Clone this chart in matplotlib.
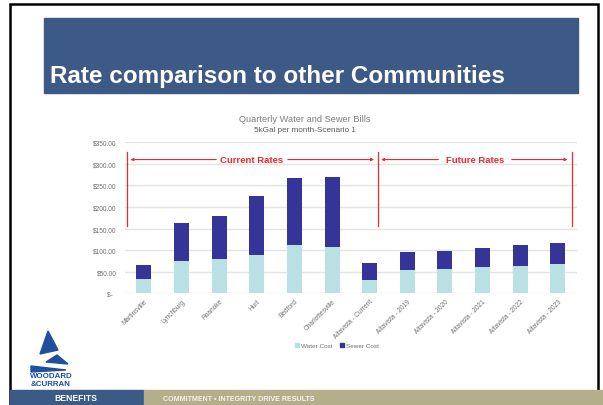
import matplotlib
matplotlib.use('Agg')
import matplotlib.pyplot as plt
from matplotlib.patches import Rectangle, Polygon
from matplotlib.lines import Line2D

plt.rcParams['font.family'] = ['Liberation Sans', 'DejaVu Sans']

W, H = 603, 406

categories = ['Martinsville', 'Lynchburg', 'Roanoke', 'Hurt', 'Bedford',
              'Charlottesville', 'Altavista - Current', 'Altavista - 2019',
              'Altavista - 2020', 'Altavista - 2021', 'Altavista - 2022',
              'Altavista - 2023']
water_cost = [34, 74, 79, 89, 111, 108, 31, 54, 56, 60, 64, 68]
sewer_cost = [32, 90, 100, 137, 157, 162, 40, 41, 43, 44, 47, 49]
y_ticks = [0, 50, 100, 150, 200, 250, 300, 350]
y_labels = ['$-  ', '$50.00', '$100.00', '$150.00', '$200.00', '$250.00',
            '$300.00', '$350.00']

water_col = '#b9e0e3'
sewer_col = '#353599'

fig = plt.figure(figsize=(W / 100, H / 100), dpi=100)

# slide background drawn in pixel coordinates
bg = fig.add_axes([0, 0, 1, 1], zorder=0)
bg.set_xlim(0, W)
bg.set_ylim(H, 0)
bg.axis('off')

bg.add_patch(Rectangle((9.5, 5), 588.5, 400, fill=False, ec='black', lw=1.8))
bg.add_patch(Rectangle((44, 19), 534, 75, color='#3d5a86'))
bg.text(50, 83, 'Rate comparison to other Communities', color='white',
        fontsize=17.5, fontweight='bold', va='baseline', ha='left')

# footer bar
bg.add_patch(Rectangle((10, 391), 134, 15, color='#3c5a86'))
bg.add_patch(Rectangle((144, 391), 459, 15, color='#b4af8a'))
bg.text(76, 399, 'BENEFITS', color='white', fontsize=6.2, fontweight='bold',
        ha='center', va='center')
bg.text(163, 399.5, 'COMMITMENT \u25aa INTEGRITY DRIVE RESULTS', color='#f2f2f2',
        fontsize=5.1, fontweight='bold', ha='left', va='center')

# logo
logo_col = '#1f4f9d'
bg.add_patch(Polygon([(48, 332), (58, 351), (40, 355)], color=logo_col))
bg.add_patch(Polygon([(57, 356), (68, 365), (46, 363)], color=logo_col))
bg.add_patch(Polygon([(31, 367), (66, 371), (31, 373)], color=logo_col))
bg.text(51, 377, 'WOODARD', color=logo_col, fontsize=5.7, fontweight='bold',
        ha='center', va='center')
bg.text(51, 384.5, '&CURRAN', color=logo_col, fontsize=5.7, fontweight='bold',
        ha='center', va='center')

# chart titles
bg.text(305, 119, 'Quarterly Water and Sewer Bills', color='#7f7f7f',
        fontsize=6.7, ha='center', va='center')
bg.text(305, 131, '5kGal per month-Scenario 1', color='#595959',
        fontsize=5.9, ha='center', va='center')

# chart
ax = fig.add_axes([125 / W, (H - 294.3) / H, 451.7 / W, 151 / H], zorder=1)
ax.set_facecolor('none')
x = list(range(len(categories)))
ax.bar(x, water_cost, width=0.4, color=water_col, label='Water Cost', zorder=2)
ax.bar(x, sewer_cost, width=0.4, bottom=water_cost, color=sewer_col,
       label='Sewer Cost', zorder=2)
ax.set_xlim(-0.5, len(categories) - 0.5)
ax.set_ylim(0, 350)
ax.set_yticks(y_ticks)
ax.set_yticklabels(y_labels)
ax.set_xticks(x)
ax.set_xticklabels(categories, rotation=45, ha='right', rotation_mode='anchor')
ax.tick_params(length=0, labelsize=4.7, labelcolor='#6f6f6f')
ax.tick_params(axis='y', pad=6)
ax.tick_params(axis='x', pad=3)
ax.grid(axis='y', color='#e3e3e3', lw=1, zorder=0)
ax.set_axisbelow(True)
for s in ax.spines.values():
    s.set_visible(False)

# period brackets
red = '#f02828'
for xv in [-0.45, 6.21, 11.37]:
    ax.plot([xv, xv], [157, 328], color=red, lw=0.9, zorder=3, clip_on=False)
ay = 310
arrow = dict(arrowstyle='-|>', color=red, lw=0.8, mutation_scale=4)
ax.annotate('', xy=(-0.43, ay), xytext=(2.0, ay), arrowprops=arrow)
ax.annotate('', xy=(6.19, ay), xytext=(3.75, ay), arrowprops=arrow)
ax.annotate('', xy=(6.23, ay), xytext=(7.9, ay), arrowprops=arrow)
ax.annotate('', xy=(11.33, ay), xytext=(9.7, ay), arrowprops=arrow)
ax.text(2.87, ay, 'Current Rates', color=red, fontsize=6.8, fontweight='bold',
        ha='center', va='center', zorder=4)
ax.text(8.8, ay, 'Future Rates', color=red, fontsize=6.8, fontweight='bold',
        ha='center', va='center', zorder=4)

handles = [Line2D([], [], marker='s', ls='', color=water_col, markersize=2.8),
           Line2D([], [], marker='s', ls='', color=sewer_col, markersize=2.8)]
fig.legend(handles, ['Water Cost', 'Sewer Cost'], loc='center',
           bbox_to_anchor=(337 / W, (H - 346) / H), ncol=2, frameon=False,
           fontsize=4.6, handlelength=0.6, handletextpad=0.3,
           columnspacing=1.2, labelcolor='#6f6f6f')

fig.savefig('out.png', dpi=100)
